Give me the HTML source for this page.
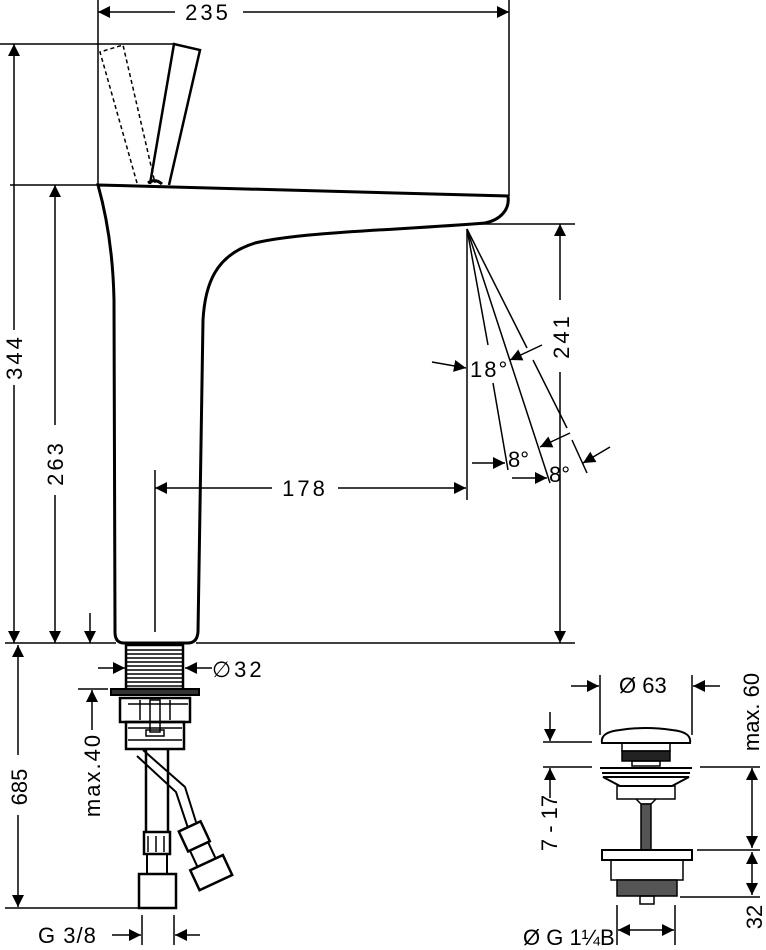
<!DOCTYPE html>
<html><head><meta charset="utf-8"><style>
html,body{margin:0;padding:0;background:#fff;}
svg{display:block;}
text{font-family:"Liberation Sans",sans-serif;font-size:22px;fill:#000;}
</style></head><body>
<svg width="766" height="950" viewBox="0 0 766 950" xmlns="http://www.w3.org/2000/svg">
<defs>
<marker id="a" viewBox="0 0 10 10" refX="10" refY="5" markerWidth="16" markerHeight="12" markerUnits="userSpaceOnUse" orient="auto-start-reverse"><path d="M0,0 L10,5 L0,10z" fill="#000"/></marker>
</defs>
<g stroke="#000" fill="none" stroke-width="1.5">
<line x1="98" y1="0" x2="98" y2="185"/>
<line x1="509" y1="0" x2="509" y2="196"/>
<line x1="98" y1="12" x2="175" y2="12" marker-start="url(#a)"/>
<line x1="243" y1="12" x2="509" y2="12" marker-end="url(#a)"/>
<line x1="0" y1="44" x2="175" y2="44"/>
<line x1="14" y1="44" x2="14" y2="330" marker-start="url(#a)"/>
<line x1="14" y1="385" x2="14" y2="643" marker-end="url(#a)"/>
<line x1="10" y1="185" x2="98" y2="185"/>
<line x1="55" y1="185" x2="55" y2="425" marker-start="url(#a)"/>
<line x1="55" y1="495" x2="55" y2="643" marker-end="url(#a)"/>
<line x1="90" y1="613" x2="90" y2="643" marker-end="url(#a)"/>
<line x1="5" y1="643" x2="116" y2="643"/>
<line x1="196" y1="643" x2="575" y2="643"/>
<line x1="480" y1="224" x2="575" y2="224"/>
<line x1="560" y1="224" x2="560" y2="300" marker-start="url(#a)"/>
<line x1="560" y1="372" x2="560" y2="643" marker-end="url(#a)"/>
<line x1="467" y1="229" x2="467" y2="500"/>
<line x1="467" y1="229" x2="488" y2="345"/>
<line x1="493" y1="383" x2="508" y2="470"/>
<line x1="467" y1="229" x2="550" y2="483"/>
<line x1="467" y1="229" x2="527" y2="348"/>
<line x1="533" y1="360" x2="567" y2="428"/>
<line x1="572" y1="440" x2="587" y2="473"/>
<line x1="432" y1="362" x2="466" y2="368" marker-end="url(#a)"/>
<line x1="542" y1="345" x2="510" y2="360" marker-end="url(#a)"/>
<line x1="472" y1="463" x2="505" y2="463" marker-end="url(#a)"/>
<line x1="570" y1="433" x2="540" y2="447" marker-end="url(#a)"/>
<line x1="512" y1="478" x2="547" y2="478" marker-end="url(#a)"/>
<line x1="610" y1="447" x2="583" y2="463" marker-end="url(#a)"/>
</g>
<g stroke="#000" fill="none" stroke-width="3">
<path d="M98,185 L508,196 C510,210 500,220 485,223 C400,230 300,232 255,243 C215,255 205,285 203,320 L198,632 Q197,643 188,643 L124,643 Q115,643 115,632 L114,300 C113,250 105,210 98,185 Z" fill="#fff"/>
<path d="M150,184 L174,44 L200,50 L169,185" stroke-width="2.5"/>
<path d="M148,183 Q155,178 162,184" stroke-width="3"/>
</g>
<path d="M137,183 L100,52 L123,45 L155,183" stroke="#000" stroke-width="1.5" fill="none" stroke-dasharray="4,3"/>
<g stroke="#000" stroke-width="1.5" fill="none">
<line x1="155" y1="470" x2="155" y2="632"/>
<line x1="155" y1="488" x2="272" y2="488" marker-start="url(#a)"/>
<line x1="338" y1="488" x2="466" y2="488" marker-end="url(#a)"/>
</g>
<g stroke="#000" stroke-width="1.5" fill="none">
<rect x="126" y="645" width="57" height="44" fill="#fff" stroke-width="2.5"/>
<path d="M127,650H182M127,654H182M127,658H182M127,662H182M127,666H182M127,670H182M127,674H182M127,678H182M127,682H182M127,686H182"/>
<line x1="98" y1="668" x2="125" y2="668" marker-end="url(#a)"/>
<line x1="212" y1="668" x2="185" y2="668" marker-end="url(#a)"/>
<rect x="111" y="689" width="88" height="6" fill="#333" stroke-width="2"/>
<rect x="120" y="698" width="70" height="24" stroke-width="2.5"/>
<rect x="126" y="722" width="58" height="27" stroke-width="2.5"/>
<path d="M128,704H188M140,700V720M170,700V720M128,728H182M128,740H182"/>
<rect x="150" y="700" width="10" height="32"/>
<rect x="146" y="730" width="18" height="6"/>
<line x1="78" y1="689" x2="108" y2="689"/>
<line x1="92" y1="730" x2="92" y2="690" marker-end="url(#a)"/>
<path d="M146,750V832M168,750V832" stroke-width="2.5"/>
<path d="M137,756L176,792L188,828M143,750L185,787L196,822" stroke-width="2"/>
<rect x="144" y="832" width="26" height="22" stroke-width="2.5"/>
<path d="M148,836V852M156,836V852M164,836V852"/>
<rect x="147" y="854" width="20" height="20" stroke-width="2"/>
<rect x="139" y="874" width="37" height="34" stroke-width="2.5"/>
<g transform="rotate(-25 196 840)"><rect x="184" y="825" width="24" height="22" stroke-width="2.5"/><rect x="186" y="847" width="20" height="18" stroke-width="2"/><rect x="178" y="865" width="36" height="22" stroke-width="2.5"/></g>
<line x1="5" y1="908" x2="139" y2="908"/>
<line x1="18" y1="645" x2="18" y2="755" marker-start="url(#a)"/>
<line x1="18" y1="815" x2="18" y2="907" marker-end="url(#a)"/>
<line x1="142" y1="915" x2="142" y2="945"/>
<line x1="174" y1="915" x2="174" y2="945"/>
<line x1="112" y1="935" x2="141" y2="935" marker-end="url(#a)"/>
<line x1="200" y1="935" x2="175" y2="935" marker-end="url(#a)"/>
</g>
<g stroke="#000" stroke-width="1.5" fill="none">
<line x1="600" y1="675" x2="600" y2="735"/>
<line x1="692" y1="675" x2="692" y2="735"/>
<line x1="571" y1="686" x2="599" y2="686" marker-end="url(#a)"/>
<line x1="720" y1="686" x2="693" y2="686" marker-end="url(#a)"/>
<line x1="543" y1="742" x2="592" y2="742"/>
<line x1="550" y1="712" x2="550" y2="741" marker-end="url(#a)"/>
<line x1="543" y1="767" x2="592" y2="767"/>
<line x1="700" y1="767" x2="760" y2="767"/>
<line x1="550" y1="798" x2="550" y2="768" marker-end="url(#a)"/>
<line x1="752" y1="768" x2="752" y2="848" marker-start="url(#a)" marker-end="url(#a)"/>
<line x1="697" y1="850" x2="760" y2="850"/>
<line x1="752" y1="852" x2="752" y2="895" marker-start="url(#a)" marker-end="url(#a)"/>
<line x1="680" y1="897" x2="760" y2="897"/>
<path d="M602,743 Q600,732 620,730 Q646,726 672,730 Q692,732 690,743 Z" stroke-width="2"/>
<rect x="622" y="743" width="48" height="8"/>
<rect x="622" y="751" width="48" height="10" fill="#222"/>
<rect x="632" y="761" width="28" height="5"/>
<path d="M600,768H692M602,773H690M603,777L620,786H672L689,777Z" stroke-width="2"/>
<rect x="617" y="786" width="58" height="13"/>
<path d="M636,799L641,804H651L656,799"/>
<rect x="641" y="804" width="10" height="46" fill="#555"/>
<rect x="602" y="850" width="90" height="10" stroke-width="2"/>
<rect x="611" y="860" width="72" height="20"/>
<rect x="617" y="880" width="60" height="16" fill="#555"/>
<rect x="640" y="896" width="14" height="8"/>
<line x1="617" y1="905" x2="617" y2="945"/>
<line x1="675" y1="905" x2="675" y2="945"/>
<line x1="618" y1="930" x2="674" y2="930" marker-start="url(#a)" marker-end="url(#a)"/>
</g>
<text x="208" y="20" text-anchor="middle" letter-spacing="3">235</text>
<text x="305" y="496" text-anchor="middle" letter-spacing="3">178</text>
<text transform="translate(22,357) rotate(-90)" text-anchor="middle" letter-spacing="3">344</text>
<text transform="translate(63,463) rotate(-90)" text-anchor="middle" letter-spacing="3">263</text>
<text transform="translate(569,336) rotate(-90)" text-anchor="middle" letter-spacing="3">241</text>
<text transform="translate(27,787) rotate(-90)" text-anchor="middle" font-size="23">685</text>
<text transform="translate(100,775) rotate(-90)" text-anchor="middle" font-size="20" letter-spacing="2">max.40</text>
<text x="470" y="377" letter-spacing="2">18°</text>
<text x="508" y="467" font-size="24">8°</text>
<text x="549" y="482" font-size="24">8°</text>
<text x="212" y="677" letter-spacing="3">∅32</text>
<text x="38" y="943" font-size="23" letter-spacing="1">G 3/8</text>
<text x="619" y="693" font-size="23">Ø 63</text>
<text transform="translate(759,712) rotate(-90)" text-anchor="middle" font-size="23">max. 60</text>
<text transform="translate(557,823) rotate(-90)" text-anchor="middle" font-size="23">7 - 17</text>
<text transform="translate(762,917) rotate(-90)" text-anchor="middle" font-size="23">32</text>
<text x="523" y="945" font-size="23">Ø G 1¼B</text>
</svg>
</body></html>
